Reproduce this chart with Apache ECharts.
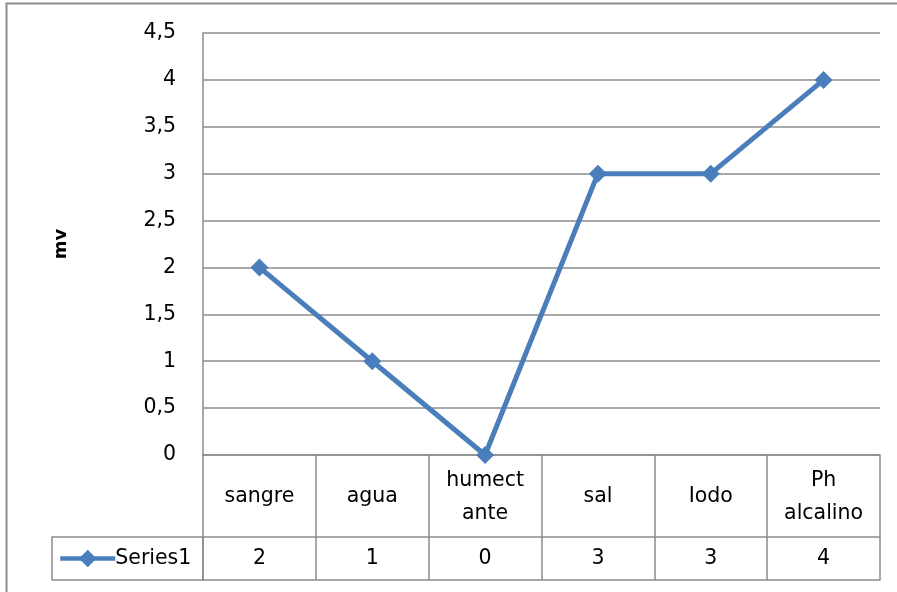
<!DOCTYPE html>
<html>
<head>
<meta charset="utf-8">
<script src="https://cdn.jsdelivr.net/npm/echarts@6/dist/echarts.min.js"></script>
<style>
html,body{margin:0;padding:0;background:#fff;}
#c{width:897px;height:592px;}
</style>
</head>
<body>
<div id="c"></div>
<script>
const categories = ['sangre', 'agua', 'humect\nante', 'sal', 'Iodo', 'Ph\nalcalino'];
const seriesName = 'Series1';
const seriesValues = [2, 1, 0, 3, 3, 4];
const yTicks = { min: 0, max: 4.5, interval: 0.5 };
const yAxisTitle = 'mv';

const FONT = 'DejaVu Sans';
const FS = 20.5;
const GRID_COLOR = '#8c8c8c';
const LINE_COLOR = '#4a7ebb';

const chart = echarts.init(document.getElementById('c'), null, { renderer: 'canvas' });
chart.setOption({
  animation: false,
  backgroundColor: '#fff',
  grid: { left: 203, right: 17, top: 33, bottom: 137, containLabel: false },
  legend: {
    left: 58, top: 548, padding: 0,
    itemWidth: 55, itemHeight: 22, itemGap: 0,
    lineStyle: { width: 4.5 },
    textStyle: { fontFamily: FONT, fontSize: FS, color: '#000', padding: [0,0,0,-5] },
    data: [seriesName]
  },
  xAxis: [
    {
      type: 'category', data: categories, position: 'bottom', boundaryGap: true,
      axisLine: { show: true, lineStyle: { color: GRID_COLOR, width: 1.5 } },
      axisTick: { show: true, length: 125, interval: 0, lineStyle: { color: GRID_COLOR, width: 1.5 } },
      axisLabel: { interval: 0, margin: 42, verticalAlign: 'middle', lineHeight: 33,
        fontFamily: FONT, fontSize: FS, color: '#000' },
      splitLine: { show: false }
    },
    {
      type: 'category', data: seriesValues.map(String), position: 'bottom', offset: 82, boundaryGap: true,
      axisLine: { show: true, lineStyle: { color: GRID_COLOR, width: 1.5 } },
      axisTick: { show: false },
      axisLabel: { interval: 0, margin: 22, verticalAlign: 'middle',
        fontFamily: FONT, fontSize: FS, color: '#000' }
    },
    {
      type: 'category', data: categories, position: 'bottom', offset: 125, boundaryGap: true,
      axisLine: { show: true, lineStyle: { color: GRID_COLOR, width: 1.5 } },
      axisTick: { show: false },
      axisLabel: { show: false }
    }
  ],
  yAxis: {
    type: 'value', min: yTicks.min, max: yTicks.max, interval: yTicks.interval,
    name: yAxisTitle, nameLocation: 'middle', nameRotate: 90, nameGap: 133,
    nameTextStyle: { fontFamily: FONT, fontSize: 18, fontWeight: 'bold', color: '#000' },
    axisLine: { show: true, lineStyle: { color: GRID_COLOR, width: 1.5 } },
    axisTick: { show: false },
    axisLabel: { margin: 27, fontFamily: FONT, fontSize: FS, color: '#000', padding: [6,0,0,0],
      formatter: v => String(v).replace('.', ',') },
    splitLine: { show: true, lineStyle: { color: GRID_COLOR, width: 1.5 } }
  },
  series: [{
    name: seriesName, type: 'line', xAxisIndex: 0, data: seriesValues,
    symbol: 'diamond', symbolSize: 18,
    lineStyle: { color: LINE_COLOR, width: 5 },
    itemStyle: { color: LINE_COLOR },
    emphasis: { disabled: true }
  }],
  graphic: [
    { type: 'rect', shape: { x: 52, y: 537, width: 151, height: 43 },
      style: { fill: 'none', stroke: GRID_COLOR, lineWidth: 1.5 }, silent: true },
    { type: 'rect', shape: { x: 6.5, y: 3.5, width: 1000, height: 1000 },
      style: { fill: 'none', stroke: '#8c8c8c', lineWidth: 2 }, silent: true, z: -1 }
  ]
});
</script>
</body>
</html>
